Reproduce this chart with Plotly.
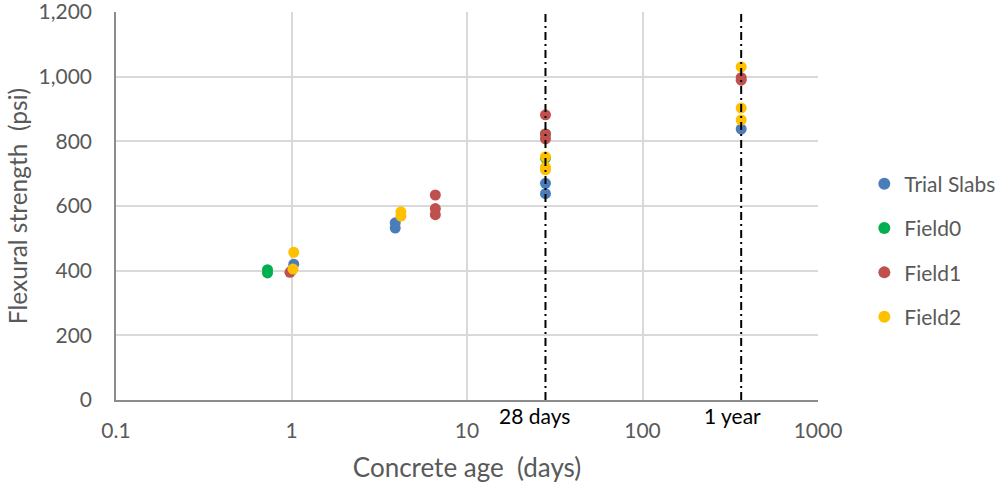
import math
import plotly.graph_objects as go

# Data (age in days, flexural strength in psi)
trial_age = [1.03, 1.0, 3.9, 3.9, 28, 28, 365]
trial_val = [420, 400, 548, 532, 670, 638, 838]

field0_age = [0.73, 0.73, 28, 28]
field0_val = [403, 393, 823, 748]

field1_age = [0.98, 6.6, 6.6, 6.6, 28, 28, 28, 365, 365]
field1_val = [395, 634, 592, 573, 882, 823, 808, 997, 989]

field2_age = [1.03, 1.02, 4.2, 4.2, 28, 28, 28, 365, 365, 365]
field2_val = [457, 405, 582, 569, 752, 720, 712, 1030, 903, 866]

series = [
    ("Trial Slabs", trial_age, trial_val, "#4A7EBB"),
    ("Field0", field0_age, field0_val, "#00B050"),
    ("Field1", field1_age, field1_val, "#C0504D"),
    ("Field2", field2_age, field2_val, "#FFC000"),
]

x_tickvals = [0.1, 1, 10, 100, 1000]
x_ticktext = ["0.1", "1", "10", "100", "1000"]
y_tickvals = [0, 200, 400, 600, 800, 1000, 1200]

ref_lines = [28, 365]
ref_labels = ["28 days", "1 year"]
label_shift = [-11, -9]

FONT = "Lato"
GRAY = "#595959"

fig = go.Figure()
for name, xs, ys, col in series:
    fig.add_trace(go.Scatter(x=xs, y=ys, mode="markers", name=name, legendgroup=name,
                             marker=dict(color=col, size=11)))

for xv, lab, sh in zip(ref_lines, ref_labels, label_shift):
    fig.add_shape(type="line", xref="x", yref="paper", x0=xv, x1=xv, y0=0, y1=1,
                  line=dict(color="black", width=2, dash="8px,4px,2px,4px"))
    fig.add_annotation(x=math.log10(xv), xref="x", y=0, yref="paper", yshift=-15,
                       yanchor="middle", xshift=sh, text=lab, showarrow=False,
                       bgcolor="white", borderpad=0,
                       font=dict(family=FONT, size=21, color="black"))

fig.update_layout(
    width=998, height=483,
    margin=dict(l=116, r=180, t=12, b=83, autoexpand=False),
    paper_bgcolor="white", plot_bgcolor="white",
    font=dict(family=FONT, color=GRAY, size=21),
    legend=dict(x=1.066, y=0.385, yanchor="middle", xanchor="left",
                font=dict(family=FONT, size=21, color=GRAY),
                traceorder="grouped", tracegroupgap=14, itemsizing="constant"),
    xaxis=dict(type="log", range=[-1, 3], tickvals=x_tickvals, ticktext=x_ticktext,
               automargin=False, ticklabeloverflow="allow",
               showgrid=True, gridcolor="#D9D9D9", gridwidth=1.5,
               showline=True, linecolor="#8C8C8C", linewidth=1.5,
               ticks="", ticklabelstandoff=11,
               tickfont=dict(family=FONT, size=21, color=GRAY),
               title=dict(text="Concrete age  (days)", standoff=18,
                          font=dict(family=FONT, size=26, color=GRAY))),
    yaxis=dict(range=[0, 1200], tickvals=y_tickvals, tickformat=",",
               automargin=False, ticklabeloverflow="allow",
               showgrid=True, gridcolor="#D9D9D9", gridwidth=1.5,
               showline=True, linecolor="#8C8C8C", linewidth=1.5,
               ticks="", ticklabelstandoff=18, zeroline=False,
               tickfont=dict(family=FONT, size=21, color=GRAY),
               title=dict(text="Flexural strength  (psi)", standoff=4,
                          font=dict(family=FONT, size=24.5, color=GRAY))),
)

fig.write_html("out.html", config={"displayModeBar": False},
               post_script="document.body.style.margin='0px';document.body.style.overflow='hidden';")
